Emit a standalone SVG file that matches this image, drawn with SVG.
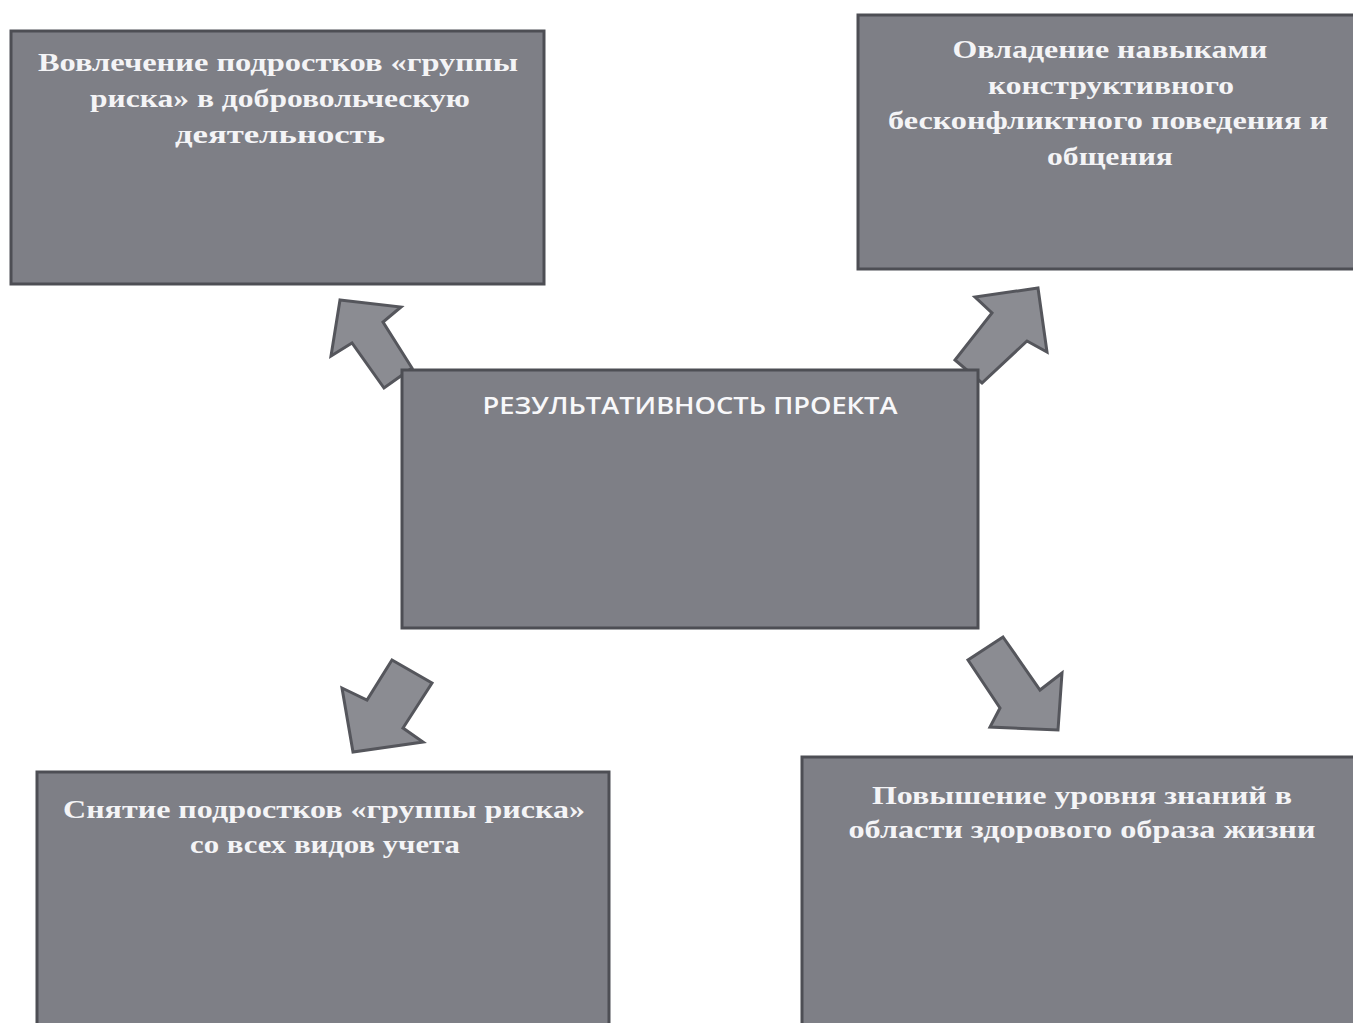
<svg xmlns="http://www.w3.org/2000/svg" width="1353" height="1023" viewBox="0 0 1353 1023">
<style>
.box{fill:#7e7f86;stroke:#4d4e54;stroke-width:3}
.t{font-family:"Liberation Serif","DejaVu Serif",serif;font-weight:bold;font-size:26px;fill:#f4f4f6;text-anchor:middle}
.c{font-family:"Open Sans","Liberation Sans",sans-serif;font-weight:600;font-size:24px;fill:#f8f8fa;text-anchor:middle}
.arr{fill:#8b8c92;stroke:#55565c;stroke-width:3;stroke-linejoin:miter}
</style>
<rect width="1353" height="1023" fill="#ffffff"/>
<g id="connectors">
<polygon class="arr" points="340,300 401,307 383,322 412,368 384,388 352,343 331,356"/>
<polygon class="arr" points="1038,288 1047,352 1027,341 982,383 955,360 992,313 975,297"/>
<polygon class="arr" points="392,660 432,683 403,728 423,742 353,752 342,688 367,700"/>
<polygon class="arr" points="1003,637 1040,690 1062,673 1058,730 990,727 1000,708 968,660"/>
</g>
<g id="node-top-left">
<rect class="box" x="11" y="31" width="533" height="253"/>
<text class="t" x="278" y="71" textLength="480" lengthAdjust="spacingAndGlyphs">Вовлечение подростков «группы</text>
<text class="t" x="280" y="107" textLength="380" lengthAdjust="spacingAndGlyphs">риска» в добровольческую</text>
<text class="t" x="280" y="143" textLength="210" lengthAdjust="spacingAndGlyphs">деятельность</text>
</g>
<g id="node-top-right">
<rect class="box" x="858" y="15" width="500" height="254"/>
<text class="t" x="1110" y="58" textLength="315" lengthAdjust="spacingAndGlyphs">Овладение навыками</text>
<text class="t" x="1111" y="94" textLength="246" lengthAdjust="spacingAndGlyphs">конструктивного</text>
<text class="t" x="1108" y="129" textLength="440" lengthAdjust="spacingAndGlyphs">бесконфликтного поведения и</text>
<text class="t" x="1110" y="165" textLength="126" lengthAdjust="spacingAndGlyphs">общения</text>
</g>
<g id="node-center">
<rect class="box" x="402" y="370" width="576" height="258"/>
<text class="c" x="690" y="414" textLength="415" lengthAdjust="spacingAndGlyphs">РЕЗУЛЬТАТИВНОСТЬ ПРОЕКТА</text>
</g>
<g id="node-bottom-left">
<rect class="box" x="37" y="772" width="572" height="260"/>
<text class="t" x="324" y="818" textLength="522" lengthAdjust="spacingAndGlyphs">Снятие подростков «группы риска»</text>
<text class="t" x="325" y="853" textLength="270" lengthAdjust="spacingAndGlyphs">со всех видов учета</text>
</g>
<g id="node-bottom-right">
<rect class="box" x="802" y="757" width="560" height="275"/>
<text class="t" x="1082" y="804" textLength="420" lengthAdjust="spacingAndGlyphs">Повышение уровня знаний в</text>
<text class="t" x="1082" y="838" textLength="467" lengthAdjust="spacingAndGlyphs">области здорового образа жизни</text>
</g>
</svg>
